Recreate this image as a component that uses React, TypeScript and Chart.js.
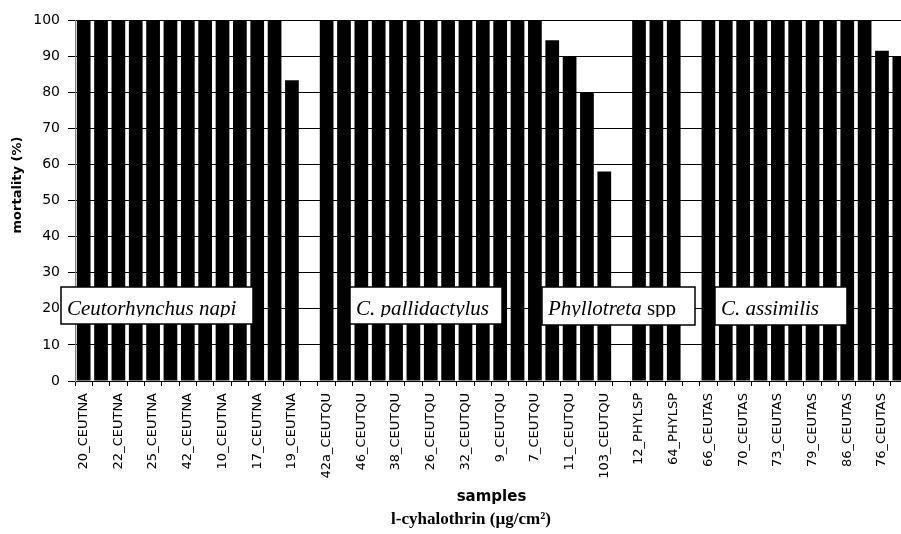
import React, { useEffect, useRef } from "react";
import { Chart, registerables } from "chart.js";

Chart.register(...registerables);

// Sample codes along the x axis (every second bar carries a code).
const categories = [
  "20_CEUTNA", "", "22_CEUTNA", "", "25_CEUTNA", "", "42_CEUTNA", "",
  "10_CEUTNA", "", "17_CEUTNA", "", "19_CEUTNA", "",
  "42a_CEUTQU", "", "46_CEUTQU", "", "38_CEUTQU", "", "26_CEUTQU", "",
  "32_CEUTQU", "", "9_CEUTQU", "", "7_CEUTQU", "", "11_CEUTQU", "",
  "103_CEUTQU", "",
  "12_PHYLSP", "", "64_PHYLSP", "",
  "66_CEUTAS", "", "70_CEUTAS", "", "73_CEUTAS", "", "79_CEUTAS", "",
  "86_CEUTAS", "", "76_CEUTAS", "",
];

// Mortality (%) per bar; null marks the empty slot between species groups.
const mortality: (number | null)[] = [
  100, 100, 100, 100, 100, 100, 100, 100,
  100, 100, 100, 100, 83.3, null,
  100, 100, 100, 100, 100, 100, 100, 100,
  100, 100, 100, 100, 100, 94.4, 90, 80,
  58, null,
  100, 100, 100, null,
  100, 100, 100, 100, 100, 100, 100, 100,
  100, 100, 91.5, 90,
];

const yTickStep = 10;

// Species captions: each is a list of [text, italic] runs.
const speciesCaptions: [string, boolean][][] = [
  [["Ceutorhynchus napi", true]],
  [["C. pallidactylus", true]],
  [["Phyllotreta", true], [" spp", false]],
  [["C. assimilis", true]],
];

const yAxisTitle = "mortality (%)";
const xAxisTitle = "samples";
const treatmentTitle = "l-cyhalothrin (µg/cm²)";

// Frames of the caption boxes on the canvas: left, top, width, height.
const captionFrames = [
  [61, 287, 192, 37],
  [350, 287, 152, 37],
  [542, 287, 153, 38],
  [715, 287, 132, 38],
];

const annotationPlugin = {
  id: "annotations",
  afterDraw(chart: Chart) {
    const ctx = chart.ctx;

    // y axis title
    ctx.save();
    ctx.translate(18, 185);
    ctx.rotate(-Math.PI / 2);
    ctx.fillStyle = "#000";
    ctx.font = "bold 13px 'DejaVu Sans'";
    ctx.textAlign = "center";
    ctx.textBaseline = "middle";
    ctx.fillText(yAxisTitle, 0, 0);
    ctx.restore();

    // treatment line under the axis title
    ctx.save();
    ctx.fillStyle = "#000";
    ctx.font = "bold 17px 'Liberation Serif'";
    ctx.textAlign = "center";
    ctx.textBaseline = "alphabetic";
    ctx.fillText(treatmentTitle, 471, 524);
    ctx.restore();

    // species caption boxes
    speciesCaptions.forEach((runs, i) => {
      const [x, y, w, h] = captionFrames[i];
      ctx.save();
      ctx.fillStyle = "#fff";
      ctx.fillRect(x, y, w, h);
      ctx.strokeStyle = "#000";
      ctx.lineWidth = 1.5;
      ctx.strokeRect(x, y, w, h);
      ctx.beginPath();
      ctx.rect(x + 1, y + 1, w - 2, 29);
      ctx.clip();
      ctx.fillStyle = "#000";
      ctx.textBaseline = "alphabetic";
      ctx.textAlign = "left";
      let tx = x + 6;
      for (const [text, italic] of runs) {
        ctx.font = `${italic ? "italic " : ""}21px 'Liberation Serif'`;
        ctx.fillText(text, tx, y + 28);
        tx += ctx.measureText(text).width;
      }
      ctx.restore();
    });
  },
};

export default function App() {
  const canvasRef = useRef<HTMLCanvasElement | null>(null);

  useEffect(() => {
    const canvas = canvasRef.current;
    if (!canvas) return;
    const chart = new Chart(canvas, {
      type: "bar",
      data: {
        labels: categories,
        datasets: [
          {
            data: mortality,
            backgroundColor: "#000",
            borderWidth: 0,
            barPercentage: 0.79,
            categoryPercentage: 1,
          },
        ],
      },
      options: {
        responsive: false,
        animation: false,
        devicePixelRatio: 1,
        layout: { padding: { top: 20, left: 0, right: 0, bottom: 0 } },
        plugins: {
          legend: { display: false },
          tooltip: { enabled: false },
        },
        scales: {
          x: {
            offset: true,
            grid: {
              display: true,
              drawOnChartArea: false,
              offset: true,
              tickLength: 5,
              color: "#000",
              lineWidth: 1,
            },
            border: { display: true, color: "#000", width: 1 },
            ticks: {
              autoSkip: false,
              maxRotation: 90,
              minRotation: 90,
              padding: 7,
              color: "#000",
              font: { family: "'DejaVu Sans'", size: 13 },
            },
            title: {
              display: true,
              text: xAxisTitle,
              color: "#000",
              font: { family: "'DejaVu Sans'", size: 15, weight: "bold" },
              padding: { top: 0, bottom: 28 },
            },
            afterFit: (s: any) => {
              s.height = 153;
              s.paddingLeft = 0;
              s.paddingRight = 0;
            },
          },
          y: {
            min: 0,
            max: 100,
            ticks: {
              stepSize: yTickStep,
              padding: 8,
              color: "#000",
              font: { family: "'DejaVu Sans'", size: 14 },
            },
            grid: { color: "#000", lineWidth: 1, tickLength: 7 },
            border: { display: true, color: "#808080", width: 1 },
            afterFit: (s: any) => {
              s.width = 75;
              s.paddingTop = 0;
              s.paddingBottom = 0;
            },
          },
        },
      },
      plugins: [annotationPlugin],
    });
    return () => chart.destroy();
  }, []);

  return (
    <div
      style={{
        position: "fixed",
        left: 0,
        top: 0,
        width: 901,
        height: 534,
        overflow: "hidden",
        background: "#fff",
      }}
    >
      <canvas
        ref={canvasRef}
        width={908}
        height={534}
        style={{ display: "block", width: 908, height: 534 }}
      />
    </div>
  );
}
